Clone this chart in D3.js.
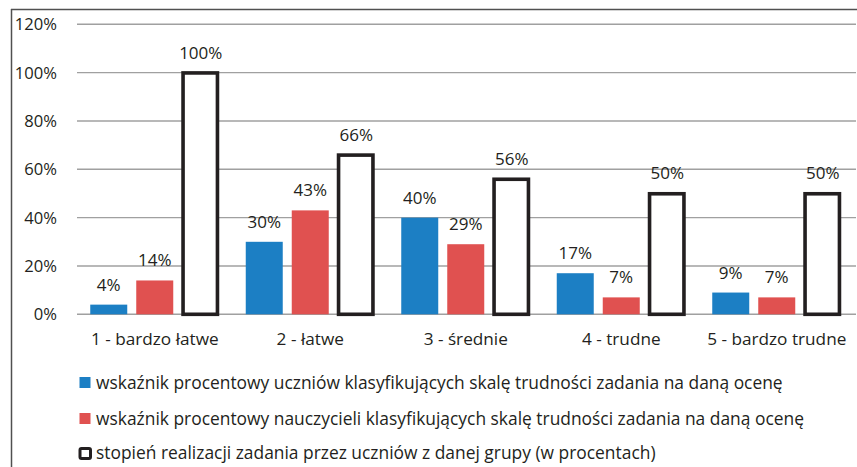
<!DOCTYPE html>
<html>
<head>
<meta charset="utf-8">
<script src="https://cdn.jsdelivr.net/npm/d3@7"></script>
<style>
  html, body { margin: 0; padding: 0; background: #fff; }
  svg { display: block; }
  text { font-family: "Open Sans", Lato, sans-serif; fill: #231f20; }
</style>
</head>
<body>
<svg id="chart" width="857" height="467"></svg>
<script>
const categories = ["1 - bardzo łatwe", "2 - łatwe", "3 - średnie", "4 - trudne", "5 - bardzo trudne"];
const seriesNames = [
  "wskaźnik procentowy uczniów klasyfikujących skalę trudności zadania na daną ocenę",
  "wskaźnik procentowy nauczycieli klasyfikujących skalę trudności zadania na daną ocenę",
  "stopień realizacji zadania przez uczniów z danej grupy (w procentach)"
];
const uczniowie = [0.04, 0.30, 0.40, 0.17, 0.09];
const nauczyciele = [0.14, 0.43, 0.29, 0.07, 0.07];
const realizacja = [1.00, 0.66, 0.56, 0.50, 0.50];
const yTicks = [0, 0.2, 0.4, 0.6, 0.8, 1.0, 1.2];

const seriesValues = [uczniowie, nauczyciele, realizacja];
const seriesKeys = ["u", "n", "r"];
const colors = { u: "#1c7fc4", n: "#e05150", r: "#ffffff" };

const svg = d3.select("#chart");

// frame
svg.append("line").attr("x1", 11).attr("x2", 857).attr("y1", 9.5).attr("y2", 9.5)
  .attr("stroke", "#505050").attr("stroke-width", 1.5);
svg.append("line").attr("x1", 11.5).attr("x2", 11.5).attr("y1", 9).attr("y2", 467)
  .attr("stroke", "#505050").attr("stroke-width", 1.5);

const x = d3.scaleBand().domain(categories).range([77, 854.5]).paddingInner(0).paddingOuter(0);
const xs = d3.scaleBand().domain(seriesKeys).range([0, x.bandwidth()]).paddingInner(0.1957).paddingOuter(0.288);
const y = d3.scaleLinear().domain([0, 1.2]).range([314.3, 24.3]);

const fmt = d3.format(".0%");

// gridlines
svg.append("g").selectAll("line").data(yTicks).join("line")
  .attr("x1", 77).attr("x2", 856)
  .attr("y1", d => y(d)).attr("y2", d => y(d))
  .attr("stroke", "#a0a0a0").attr("stroke-width", 1.4);

// y tick labels
svg.append("g").selectAll("text").data(yTicks).join("text")
  .attr("x", 57).attr("y", d => y(d)).attr("dy", "0.36em")
  .attr("text-anchor", "end").style("font-size", "16.6px")
  .text(d => fmt(d));

// bars
const data = [];
categories.forEach((c, i) => {
  seriesKeys.forEach((k, j) => data.push({ c, k, v: seriesValues[j][i] }));
});

const g = svg.append("g");
g.selectAll("rect.bar").data(data.filter(d => d.k !== "r")).join("rect")
  .attr("class", "bar")
  .attr("x", d => x(d.c) + xs(d.k)).attr("width", xs.bandwidth())
  .attr("y", d => y(d.v)).attr("height", d => y(0) - y(d.v))
  .attr("fill", d => colors[d.k]);

const sw = 3.6;
g.selectAll("rect.box").data(data.filter(d => d.k === "r")).join("rect")
  .attr("class", "box")
  .attr("x", d => x(d.c) + xs(d.k) + sw / 2 - 1).attr("width", xs.bandwidth() - sw + 1)
  .attr("y", d => y(d.v) + sw / 2 - 1.5).attr("height", d => y(0) - y(d.v) - sw / 2 + 1.5)
  .attr("fill", "#fff").attr("stroke", "#231f20").attr("stroke-width", sw);

// value labels
g.selectAll("text.val").data(data).join("text")
  .attr("class", "val")
  .attr("x", d => x(d.c) + xs(d.k) + xs.bandwidth() / 2)
  .attr("y", d => y(d.v) - 14)
  .attr("text-anchor", "middle").style("font-size", "17px")
  .text(d => fmt(d.v));

// category labels
svg.append("g").selectAll("text").data(categories).join("text")
  .attr("x", d => x(d) + x.bandwidth() / 2).attr("y", 345)
  .attr("text-anchor", "middle").style("font-size", "17.2px")
  .text(d => d);

// legend
const legendY = [382.5, 418.5, 453];
const lg = svg.append("g");
seriesKeys.forEach((k, j) => {
  if (k === "r") {
    lg.append("rect").attr("x", 80).attr("y", legendY[j] - 4.5).attr("width", 10.5).attr("height", 10)
      .attr("rx", 1.5).attr("fill", "#fff").attr("stroke", "#231f20").attr("stroke-width", 3);
  } else {
    lg.append("rect").attr("x", 79.5).attr("y", legendY[j] - 5.5).attr("width", 11).attr("height", 11)
      .attr("fill", colors[k]);
  }
  lg.append("text").attr("x", 96).attr("y", legendY[j]).attr("dy", "0.36em")
    .style("font-size", "17.4px").text(seriesNames[j]);
});
</script>
</body>
</html>
